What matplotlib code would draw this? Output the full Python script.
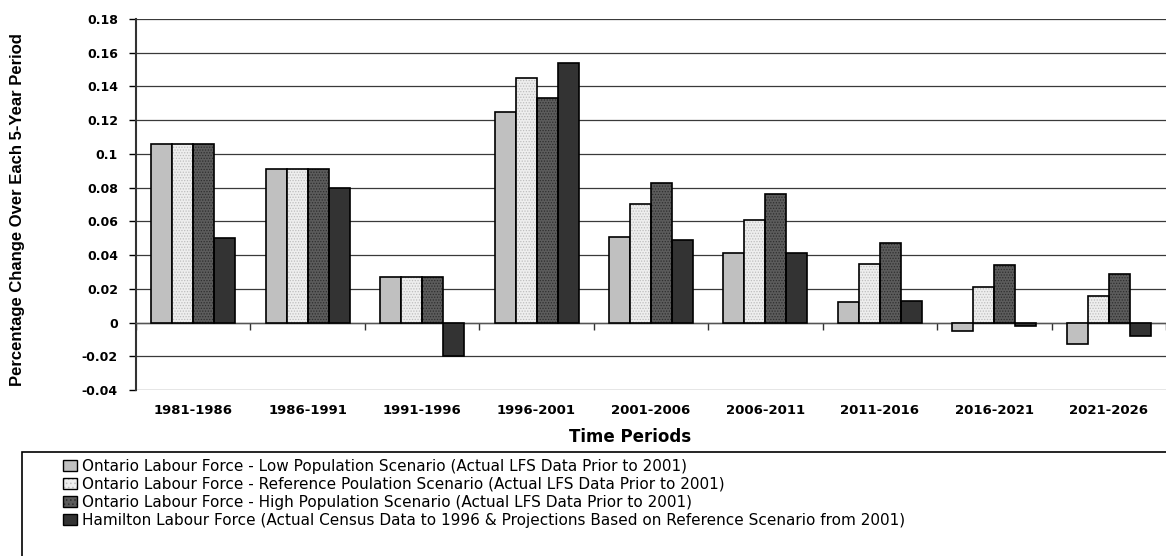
import matplotlib
matplotlib.use("Agg")
import matplotlib.pyplot as plt
import numpy as np
from matplotlib.patches import Patch, Rectangle
from matplotlib.legend_handler import HandlerTuple

categories = ["1981-1986", "1986-1991", "1991-1996", "1996-2001", "2001-2006",
              "2006-2011", "2011-2016", "2016-2021", "2021-2026"]
low = [0.106, 0.091, 0.027, 0.125, 0.051, 0.041, 0.012, -0.005, -0.013]
reference = [0.106, 0.091, 0.027, 0.145, 0.070, 0.061, 0.035, 0.021, 0.016]
high = [0.106, 0.091, 0.027, 0.133, 0.083, 0.076, 0.047, 0.034, 0.029]
hamilton = [0.050, 0.080, -0.020, 0.154, 0.049, 0.041, 0.013, -0.002, -0.008]
series_labels = [
    "Ontario Labour Force - Low Population Scenario (Actual LFS Data Prior to 2001)",
    "Ontario Labour Force - Reference Poulation Scenario (Actual LFS Data Prior to 2001)",
    "Ontario Labour Force - High Population Scenario (Actual LFS Data Prior to 2001)",
    "Hamilton Labour Force (Actual Census Data to 1996 & Projections Based on Reference Scenario from 2001)",
]
yticks = [-0.04, -0.02, 0, 0.02, 0.04, 0.06, 0.08, 0.1, 0.12, 0.14, 0.16, 0.18]
ytick_labels = ["-0.04", "-0.02", "0", "0.02", "0.04", "0.06", "0.08", "0.1",
                "0.12", "0.14", "0.16", "0.18"]

plt.rcParams['hatch.linewidth'] = 0.6
W, H = 1166, 556
fig = plt.figure(figsize=(W / 100, H / 100), dpi=100)
ax = fig.add_axes([136 / W, (H - 390) / H, 1030 / W, 371 / H])

styles = [
    dict(face="#C0C0C0", hatch=None, hcol=None),
    dict(face="#EEEEEE", hatch="......", hcol="#BDBDBD"),
    dict(face="#5C5C5C", hatch="......", hcol="#2E2E2E"),
    dict(face="#333333", hatch=None, hcol=None),
]
data = [low, reference, high, hamilton]
x = np.arange(len(categories))
bw = 0.1836
handles = []
for i, (vals, st) in enumerate(zip(data, styles)):
    pos = x + (i - 1.5) * bw
    if st["hatch"]:
        ax.bar(pos, vals, bw, color=st["face"], edgecolor=st["hcol"],
               hatch=st["hatch"], linewidth=0, zorder=3)
        ax.bar(pos, vals, bw, facecolor="none", edgecolor="black",
               linewidth=1.2, zorder=4)
        h = Patch(facecolor=st["face"], edgecolor=st["hcol"], hatch="....", linewidth=0)
        handles.append((h, Patch(facecolor="none", edgecolor="black", linewidth=1.0)))
    else:
        ax.bar(pos, vals, bw, color=st["face"], edgecolor="black",
               linewidth=1.2, zorder=3)
        handles.append(Patch(facecolor=st["face"], edgecolor="black", linewidth=1.0))

ax.set_xlim(-0.5, len(categories) - 0.5)
ax.set_ylim(-0.04, 0.18)
ax.set_yticks(yticks)
ax.set_yticklabels(ytick_labels, fontsize=9, fontweight="bold")
ax.tick_params(axis="y", direction="out", length=5, width=1, pad=8)
ax.yaxis.grid(True, color="#3a3a3a", linewidth=0.9, zorder=0)
ax.set_axisbelow(True)
for s in ["top", "right"]:
    ax.spines[s].set_visible(False)
ax.spines["left"].set_linewidth(1.5)
ax.spines["left"].set_color("#333333")
ax.spines["bottom"].set_position(("data", 0))
ax.spines["bottom"].set_color("#555555")
ax.spines["bottom"].set_linewidth(1.0)
ax.set_xticks(np.arange(len(categories) + 1) - 0.5)
ax.set_xticklabels([])
ax.tick_params(axis="x", direction="out", length=5, width=1, color="#333333")
trans = ax.get_xaxis_transform()
for xi, c in zip(x, categories):
    ax.text(xi, -0.055, c, transform=trans, ha="center", va="center",
            fontsize=9.5, fontweight="bold")

fig.text(17.5 / W, 1 - 210 / H, "Percentage Change Over Each 5-Year Period",
         rotation=90, ha="center", va="center", fontsize=12,
         fontweight="bold", family="Liberation Sans")
fig.text(630 / W, 1 - 437 / H, "Time Periods", ha="center", va="center",
         fontsize=12, fontweight="bold")

fig.patches.append(Rectangle((22 / W, -0.1), 1.2, 0.1 + (H - 452) / H,
                             transform=fig.transFigure, facecolor="none",
                             edgecolor="black", linewidth=1.2, clip_on=False))
fs = 11
leg = fig.legend(handles, series_labels, loc="upper left",
                 bbox_to_anchor=(63 / W, 1 - 458.5 / H), bbox_transform=fig.transFigure,
                 frameon=False, fontsize=fs, borderpad=0, borderaxespad=0,
                 handlelength=14 / (fs * 100 / 72), handleheight=0.7,
                 handletextpad=5 / (fs * 100 / 72),
                 labelspacing=0.2,
                 handler_map={tuple: HandlerTuple(ndivide=1, pad=0)})

fig.savefig("out.png", dpi=100)
